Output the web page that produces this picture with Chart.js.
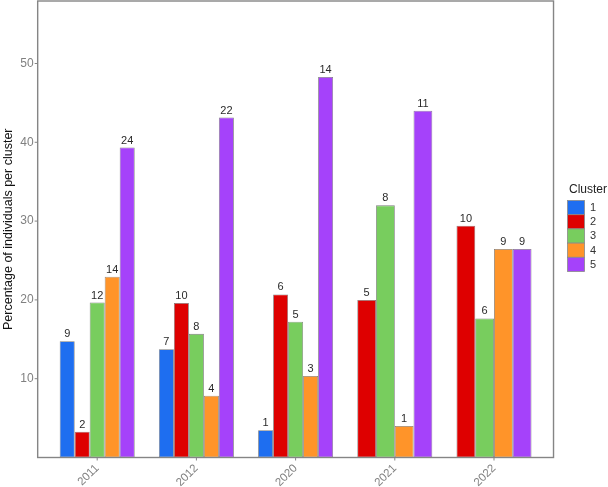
<!DOCTYPE html>
<html>
<head>
<meta charset="utf-8">
<script src="https://cdn.jsdelivr.net/npm/chart.js@4.4.1/dist/chart.umd.min.js"></script>
<style>
  html, body { margin: 0; padding: 0; background: #fff; }
  #wrap { width: 608px; height: 487px; }
</style>
</head>
<body>
<div id="wrap"><canvas id="clusterChart" width="608" height="487"></canvas></div>
<script>
// Years sampled
const years = ['2011', '2012', '2020', '2021', '2022'];

// Percentage of individuals per cluster (null = cluster absent that year)
const cluster1 = [14.75, 13.73, 3.45, null, null];
const cluster2 = [3.28, 19.61, 20.69, 20.0, 29.41];
const cluster3 = [19.67, 15.69, 17.24, 32.0, 17.65];
const cluster4 = [22.95, 7.84, 10.34, 4.0, 26.47];
const cluster5 = [39.34, 43.14, 48.28, 44.0, 26.47];

// Counts printed above the bars
const counts1 = [9, 7, 1, null, null];
const counts2 = [2, 10, 6, 5, 10];
const counts3 = [12, 8, 5, 8, 6];
const counts4 = [14, 4, 3, 1, 9];
const counts5 = [24, 22, 14, 11, 9];

const clusterNames = ['1', '2', '3', '4', '5'];
const yTicks = [10, 20, 30, 40, 50];
const yMax = 57.93;

const colors = ['#1e6ef0', '#de0000', '#78cd5e', '#ff9429', '#a542fa'];
const seriesValues = [cluster1, cluster2, cluster3, cluster4, cluster5];
const seriesCounts = [counts1, counts2, counts3, counts4, counts5];

Chart.defaults.font.family = "'Liberation Sans', Arial, sans-serif";

// ggplot-like panel border, tick marks, count labels and legend
const ggExtras = {
    id: 'ggExtras',
    afterDatasetsDraw(chart) {
        const ctx = chart.ctx;
        const area = chart.chartArea;
        const xs = chart.scales.x;
        const ys = chart.scales.y;
        const pad = (area.right - area.left) / years.length * 0.1;
        const left = area.left - pad;
        const right = area.right + pad;

        // count labels
        ctx.save();
        ctx.fillStyle = '#2a2a2a';
        ctx.font = "11px 'Liberation Sans', Arial, sans-serif";
        ctx.textAlign = 'center';
        ctx.textBaseline = 'bottom';
        chart.data.datasets.forEach((ds, di) => {
            const meta = chart.getDatasetMeta(di);
            meta.data.forEach((bar, i) => {
                const c = seriesCounts[di][i];
                if (c === null || ds.data[i] === null) return;
                ctx.fillText(String(c), bar.x, bar.y - 1.5);
            });
        });
        ctx.restore();

        // panel border
        ctx.save();
        ctx.strokeStyle = '#858585';
        ctx.lineWidth = 1.4;
        ctx.strokeRect(left, area.top, right - left, area.bottom - area.top);

        // tick marks
        ctx.lineWidth = 1;
        ctx.beginPath();
        yTicks.forEach(v => {
            const y = ys.getPixelForValue(v);
            ctx.moveTo(left - 3, y);
            ctx.lineTo(left, y);
        });
        years.forEach((_, i) => {
            const x = xs.getPixelForValue(i);
            ctx.moveTo(x, area.bottom);
            ctx.lineTo(x, area.bottom + 3);
        });
        ctx.stroke();
        ctx.restore();

        // legend
        ctx.save();
        const lx = right + 14;
        let ly = 200.5;
        ctx.fillStyle = '#222';
        ctx.font = "12px 'Liberation Sans', Arial, sans-serif";
        ctx.textAlign = 'left';
        ctx.textBaseline = 'middle';
        ctx.fillText('Cluster', lx + 1.5, 190);
        ctx.font = "11px 'Liberation Sans', Arial, sans-serif";
        clusterNames.forEach((name, i) => {
            ctx.fillStyle = colors[i];
            ctx.fillRect(lx, ly, 17, 14.2);
            ctx.strokeStyle = '#8a8a8a';
            ctx.lineWidth = 0.8;
            ctx.strokeRect(lx, ly, 17, 14.2);
            ctx.fillStyle = '#333';
            ctx.fillText(name, lx + 22.5, ly + 7.5);
            ly += 14.2;
        });
        ctx.restore();
    }
};

new Chart(document.getElementById('clusterChart').getContext('2d'), {
    type: 'bar',
    data: {
        labels: years,
        datasets: seriesValues.map((vals, i) => ({
            label: clusterNames[i],
            data: vals,
            backgroundColor: colors[i],
            borderColor: '#7d7d7d',
            borderWidth: 0.8,
            borderSkipped: false,
            skipNull: true,
            categoryPercentage: 0.756,
            barPercentage: 1.0,
        })),
    },
    options: {
        responsive: false,
        animation: false,
        layout: { padding: { top: 1, right: 64.4, left: 0, bottom: 0 } },
        plugins: {
            legend: { display: false },
            tooltip: { enabled: false },
        },
        scales: {
            x: {
                offset: true,
                grid: { display: false, drawTicks: false },
                border: { display: false },
                afterFit(scale) {
                    scale.height = 29.5;
                    scale.paddingLeft = 0;
                    scale.paddingRight = 0;
                },
                ticks: {
                    color: '#808080',
                    font: { size: 11.5 },
                    minRotation: 45,
                    maxRotation: 45,
                    padding: 4,
                },
            },
            y: {
                min: 0,
                max: yMax,
                grid: { display: false, drawTicks: false },
                border: { display: false },
                afterFit(scale) {
                    scale.width = 47.6;
                    scale.paddingTop = 0;
                    scale.paddingBottom = 0;
                },
                afterBuildTicks(scale) {
                    scale.ticks = yTicks.map(v => ({ value: v }));
                },
                ticks: {
                    color: '#808080',
                    font: { size: 12 },
                    padding: 14,
                },
                title: {
                    display: true,
                    text: 'Percentage of individuals per cluster',
                    color: '#111',
                    font: { size: 12.5 },
                    padding: { top: 1, bottom: 0 },
                },
            },
        },
    },
    plugins: [ggExtras],
});
</script>
</body>
</html>
